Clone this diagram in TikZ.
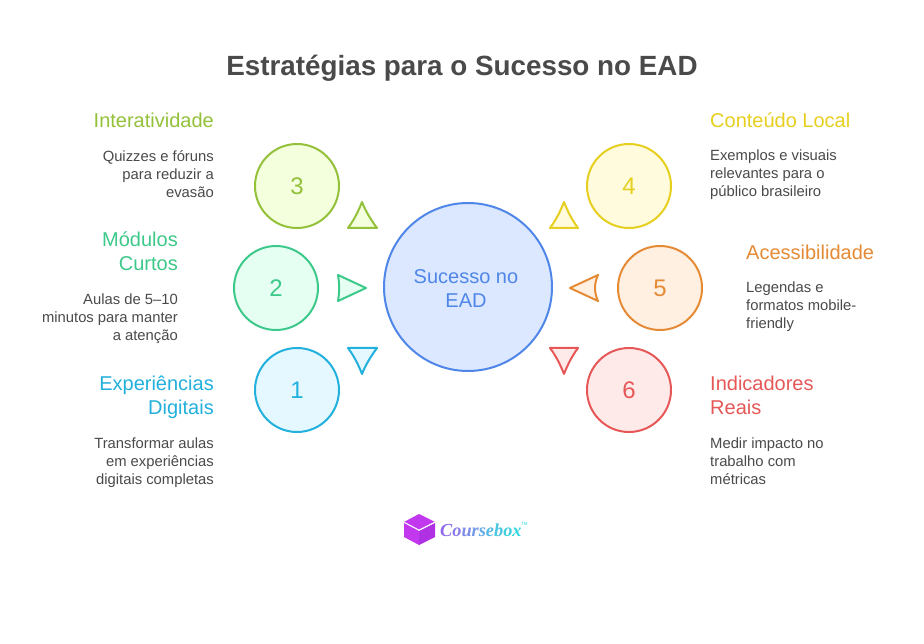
\documentclass[tikz,border=0pt]{standalone}
\usepackage{fontspec}
\setmainfont{Liberation Sans}
\newfontfamily\logofont{Liberation Serif}
\usetikzlibrary{shapes.geometric}
\definecolor{ink}{HTML}{4A4A4A}
\definecolor{limeC}{HTML}{93C13A}\definecolor{limeF}{HTML}{F4FFDD}
\definecolor{greenC}{HTML}{3CC98A}\definecolor{greenF}{HTML}{E6FFF3}
\definecolor{blueC}{HTML}{22B0DC}\definecolor{blueF}{HTML}{E6F8FF}
\definecolor{yelC}{HTML}{E6CF1E}\definecolor{yelF}{HTML}{FFFBDC}
\definecolor{oraC}{HTML}{E58A35}\definecolor{oraF}{HTML}{FFF0E2}
\definecolor{redC}{HTML}{E65858}\definecolor{redF}{HTML}{FFEAEA}
\definecolor{cenC}{HTML}{4F86E8}\definecolor{cenF}{HTML}{DBE8FF}
\tikzset{
  x=1pt,y=-1pt,
  numcirc/.style n args={2}{circle,draw=#1,fill=#2,text=#1,line width=2pt,minimum size=84pt,inner sep=0pt,font=\fontsize{24}{28}\selectfont},
  tri/.style n args={2}{draw=#1,fill=#2,line width=2pt,line join=round},
  headR/.style={anchor=north east,align=right,font=\fontsize{20}{24}\selectfont,inner sep=0pt},
  headL/.style={anchor=north west,align=left,font=\fontsize{20}{24}\selectfont,inner sep=0pt},
  bodyR/.style={anchor=north east,align=right,text=ink,font=\fontsize{14.8}{18}\selectfont,inner sep=0pt},
  bodyL/.style={anchor=north west,align=left,text=ink,font=\fontsize{14.8}{18}\selectfont,inner sep=0pt},
}
\begin{document}
\begin{tikzpicture}
\useasboundingbox (0,0) rectangle (924,644);
\fill[white] (0,0) rectangle (924,644);
\node[text=ink,font=\fontsize{27.8}{34}\selectfont\bfseries,inner sep=0pt] (title) at (462,68) {Estratégias para o Sucesso no EAD};

\node[circle,draw=cenC,fill=cenF,line width=2pt,minimum size=168pt,inner sep=0pt] (center) at (468,287) {};
\node[text=cenC,inner sep=0pt,align=center,font=\fontsize{20}{24}\selectfont] (centerlabel) at (466,289) {Sucesso no\\EAD};

\node[numcirc={limeC}{limeF}] (n3) at (297,186) {3};
\node[numcirc={greenC}{greenF}] (n2) at (276,288) {2};
\node[numcirc={blueC}{blueF}] (n1) at (297,390) {1};
\node[numcirc={yelC}{yelF}] (n4) at (629,186) {4};
\node[numcirc={oraC}{oraF}] (n5) at (660,288) {5};
\node[numcirc={redC}{redF}] (n6) at (629,390) {6};

\draw[tri={limeC}{limeF}] (362,202) .. controls (358.5,211) and (354,220) .. (348,228) -- (377,228) .. controls (371,220) and (365.5,211) .. cycle;
\draw[tri={yelC}{yelF}] (564,202) .. controls (560.5,211) and (556,220) .. (550,228) -- (578,228) .. controls (572,220) and (567.5,211) .. cycle;
\draw[tri={blueC}{blueF}] (348,348) -- (377,348) .. controls (371,356) and (365.5,365) .. (362,374) .. controls (358.5,365) and (354,356) .. cycle;
\draw[tri={redC}{redF}] (550,348) -- (578,348) .. controls (572,356) and (567.5,365) .. (564,374) .. controls (560.5,365) and (556,356) .. cycle;
\draw[tri={greenC}{greenF}] (338,275) -- (366,288) -- (338,301) .. controls (339.5,292) and (339.5,284) .. cycle;
\draw[tri={oraC}{oraF}] (598,275) -- (570,288) -- (598,301) .. controls (594,292) and (594,284) .. cycle;

\node[headR,text=limeC] (h3) at (214,113) {Interatividade};
\node[bodyR] (b3) at (214,150) {Quizzes e fóruns\\para reduzir a\\evasão};
\node[headR,text=greenC] (h2) at (178,232) {Módulos\\Curtos};
\node[bodyR] (b2) at (178,294) {Aulas de 5–10\\minutos para manter\\a atenção};
\node[headR,text=blueC] (h1) at (214,376) {Experiências\\Digitais};
\node[bodyR] (b1) at (214,438) {Transformar aulas\\em experiências\\digitais completas};

\node[headL,text=yelC] (h4) at (710,113) {Conteúdo Local};
\node[bodyL] (b4) at (710,150) {Exemplos e visuais\\relevantes para o\\público brasileiro};
\node[headL,text=oraC] (h5) at (746,245) {Acessibilidade};
\node[bodyL] (b5) at (746,282) {Legendas e\\formatos mobile-\\friendly};
\node[headL,text=redC] (h6) at (710,376) {Indicadores\\Reais};
\node[bodyL] (b6) at (710,438) {Medir impacto no\\trabalho com\\métricas};

% logo
\definecolor{cubeA}{HTML}{C238EE}\definecolor{cubeB}{HTML}{B030E4}
\fill[cubeA] (404,523) -- (419,531) -- (419,545) -- (404,537) -- cycle;
\fill[cubeB] (419,531) -- (435,523) -- (435,537) -- (419,545) -- cycle;
\fill[cubeA] (404,522) -- (419,514) -- (435,522) -- (419,530) -- cycle;
\draw[white,line width=.7pt] (404,522) -- (419,530) -- (435,522);
\definecolor{l1}{HTML}{8F6BEA}\definecolor{l2}{HTML}{8A7BEA}\definecolor{l3}{HTML}{7F8DEA}\definecolor{l4}{HTML}{7299E8}\definecolor{l5}{HTML}{63A9E6}\definecolor{l6}{HTML}{55B8E4}\definecolor{l7}{HTML}{47C6E2}\definecolor{l8}{HTML}{3BD0E0}\definecolor{l9}{HTML}{30D8DE}
\node[anchor=base west,inner sep=0pt,font=\logofont\bfseries\itshape\fontsize{18.3}{20}\selectfont] (logo) at (440,536)
 {\textcolor{l1}{C}\textcolor{l2}{o}\textcolor{l3}{u}\textcolor{l4}{r}\textcolor{l5}{s}\textcolor{l6}{e}\textcolor{l7}{b}\textcolor{l8}{o}\textcolor{l9}{x}};
\node[anchor=base west,inner sep=0pt,text=l9,font=\fontsize{4.5}{5}\selectfont] (tm) at (521,525) {TM};
\end{tikzpicture}
\end{document}
